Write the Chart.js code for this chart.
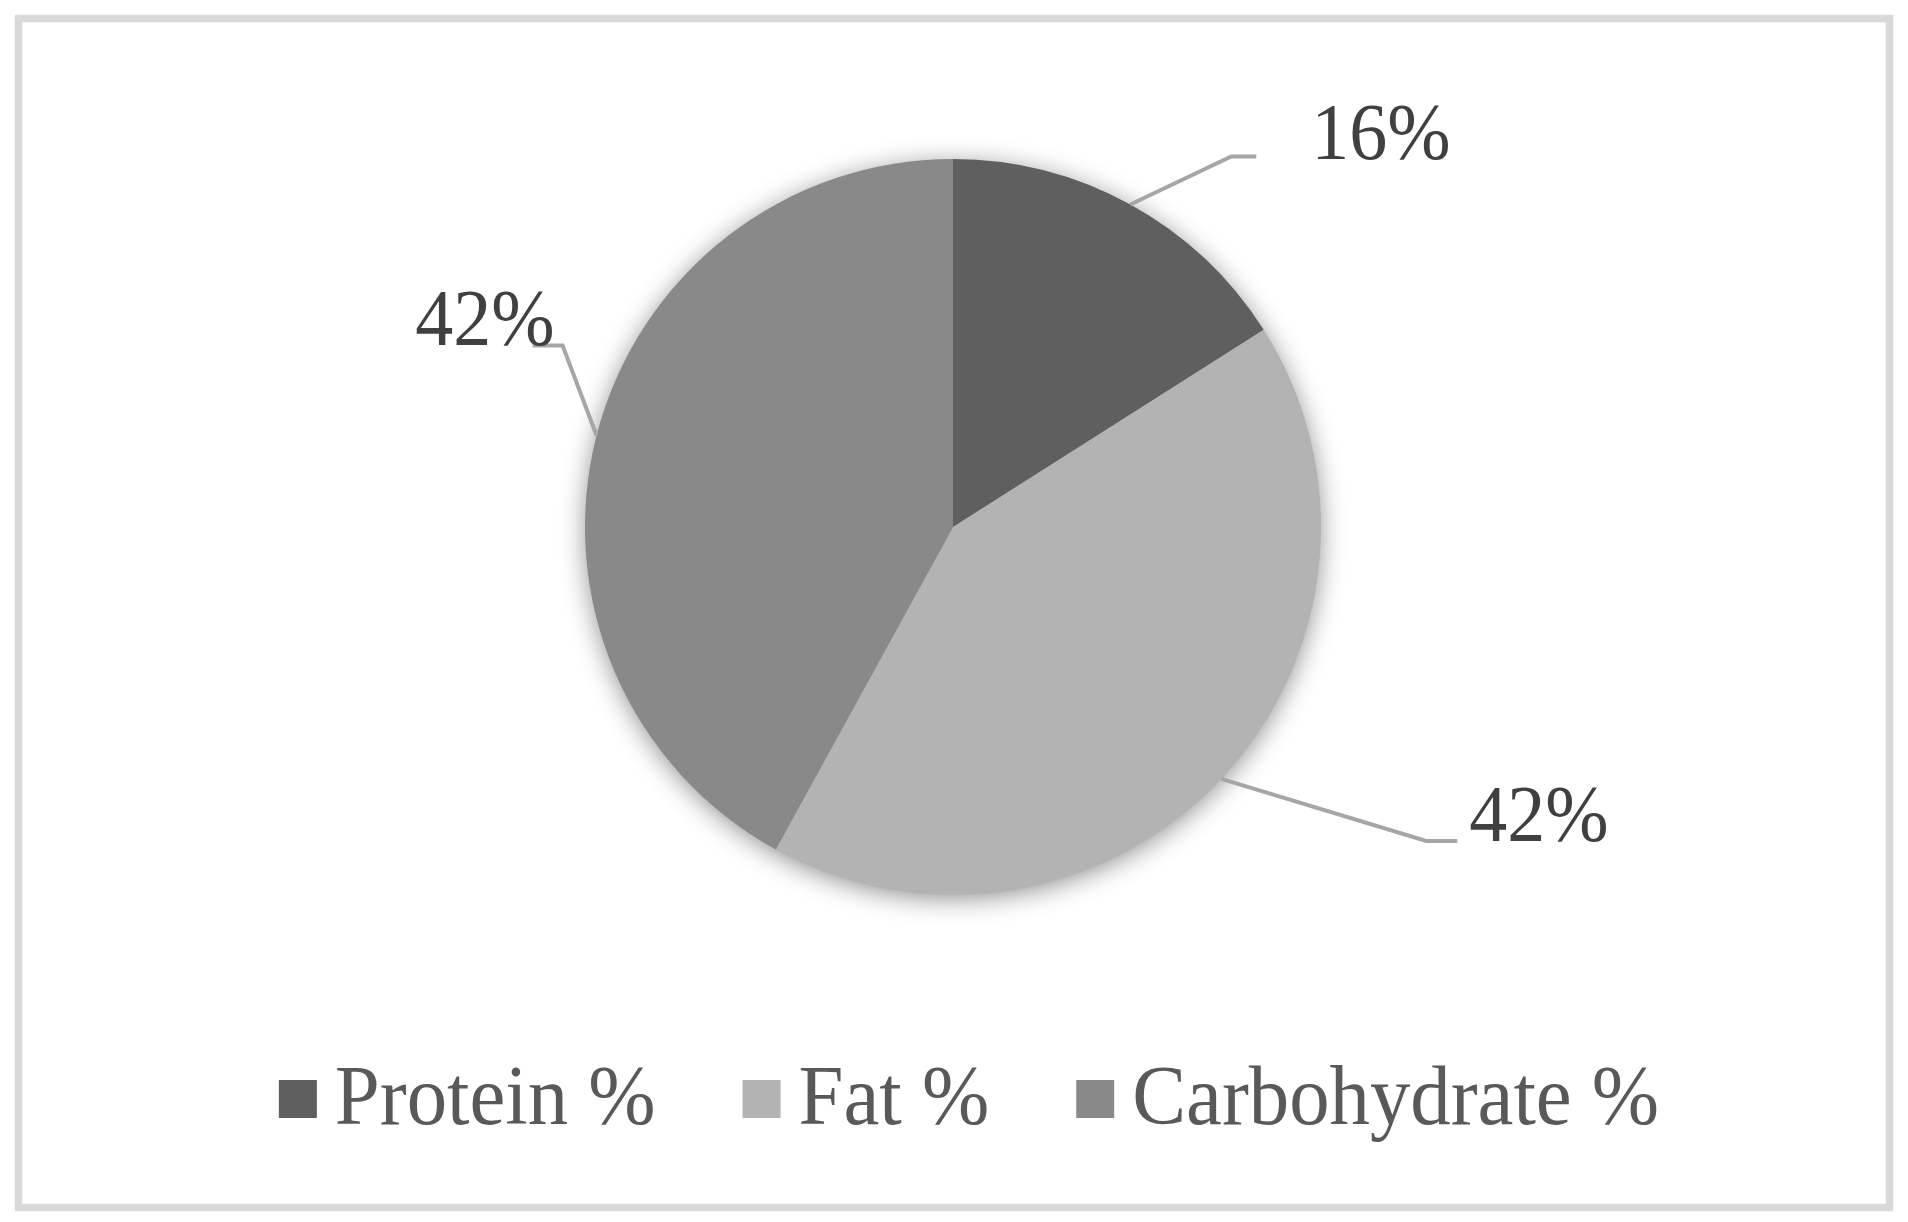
<!DOCTYPE html>
<html>
<head>
<meta charset="utf-8">
<script src="https://cdn.jsdelivr.net/npm/chart.js@4.4.1/dist/chart.umd.min.js"></script>
<style>
  html, body { margin: 0; padding: 0; background: #ffffff; }
  canvas { display: block; }
</style>
</head>
<body>
<canvas id="c" width="1908" height="1222"></canvas>
<script>
// ---- data ----
const categories = ["Protein %", "Fat %", "Carbohydrate %"];
const values = [16, 42, 42];
const valueLabels = ["16%", "42%", "42%"];
const sliceColors = ["#5f5f5f", "#b3b3b3", "#898989"];

// ---- layout of leader lines (offsets from the slice's outer mid point, in px at radius 368) ----
const leaderLayout = [
  { elbow: [101, -48], end: [126, -48], textAlign: "left",  textDx: 55,  textDy: 2 },
  { elbow: [205, 62],  end: [236, 62],  textAlign: "left",  textDx: 12,  textDy: 0 },
  { elbow: [-34, -90], end: [-64, -90], textAlign: "right", textDx: 22,  textDy: 0 }
];

const FONT_FAMILY = "'Liberation Serif', 'Times New Roman', Tinos, serif";
const SQUEEZE = 0.95;

function drawSqueezedText(ctx, text, x, y, size, color, align) {
  ctx.save();
  ctx.font = size + "px " + FONT_FAMILY;
  ctx.fillStyle = color;
  ctx.textBaseline = "alphabetic";
  const w = ctx.measureText(text).width * SQUEEZE;
  const left = align === "right" ? x - w : x;
  ctx.translate(left, y);
  ctx.scale(SQUEEZE, 1);
  ctx.textAlign = "left";
  ctx.fillText(text, 0, 0);
  ctx.restore();
  return w;
}

const framePlugin = {
  id: "frame",
  beforeDraw(chart) {
    const ctx = chart.ctx;
    ctx.save();
    ctx.fillStyle = "#ffffff";
    ctx.fillRect(0, 0, chart.width, chart.height);
    ctx.strokeStyle = "#d9d9d9";
    ctx.lineWidth = 7.5;
    ctx.strokeRect(18.5, 18.5, chart.width - 37, chart.height - 33);
    ctx.restore();
  }
};

const shadowPlugin = {
  id: "pieShadow",
  beforeDatasetsDraw(chart) {
    const meta = chart.getDatasetMeta(0);
    if (!meta.data.length) return;
    const arc = meta.data[0];
    const ctx = chart.ctx;
    ctx.save();
    ctx.shadowColor = "rgba(0,0,0,0.45)";
    ctx.shadowBlur = 26;
    ctx.shadowOffsetX = 0;
    ctx.shadowOffsetY = 4;
    ctx.fillStyle = "#999999";
    ctx.beginPath();
    ctx.arc(arc.x, arc.y, arc.outerRadius - 1, 0, Math.PI * 2);
    ctx.fill();
    ctx.restore();
  }
};

const leaderPlugin = {
  id: "leaders",
  afterDatasetsDraw(chart) {
    const meta = chart.getDatasetMeta(0);
    const ctx = chart.ctx;
    meta.data.forEach((arc, i) => {
      const L = leaderLayout[i];
      const k = arc.outerRadius / 368;
      const mid = (arc.startAngle + arc.endAngle) / 2;
      const sx = arc.x + Math.cos(mid) * arc.outerRadius;
      const sy = arc.y + Math.sin(mid) * arc.outerRadius;
      const ex = sx + L.elbow[0] * k, ey = sy + L.elbow[1] * k;
      const fx = sx + L.end[0] * k, fy = sy + L.end[1] * k;
      ctx.save();
      ctx.strokeStyle = "#a6a6a6";
      ctx.lineWidth = 4;
      ctx.lineJoin = "miter";
      ctx.beginPath();
      ctx.moveTo(sx, sy);
      ctx.lineTo(ex, ey);
      ctx.lineTo(fx, fy);
      ctx.stroke();
      ctx.restore();
      drawSqueezedText(ctx, valueLabels[i], fx + L.textDx, fy + L.textDy, 80, "#404040", L.textAlign);
    });
  }
};

const legendPlugin = {
  id: "customLegend",
  afterDraw(chart) {
    const ctx = chart.ctx;
    const size = 85, box = 38, gap = 18, spacing = 87;
    ctx.save();
    ctx.font = size + "px " + FONT_FAMILY;
    const widths = categories.map(t => ctx.measureText(t).width * SQUEEZE);
    ctx.restore();
    const total = widths.reduce((a, w) => a + box + gap + w, 0) + spacing * (categories.length - 1);
    let x = (chart.width - total) / 2 + 15;
    const baseline = 1124;
    const boxTop = 1080;
    categories.forEach((t, i) => {
      ctx.save();
      ctx.fillStyle = sliceColors[i];
      ctx.fillRect(x, boxTop, box, box);
      ctx.restore();
      drawSqueezedText(ctx, t, x + box + gap, baseline, size, "#595959", "left");
      x += box + gap + widths[i] + spacing;
    });
  }
};

new Chart(document.getElementById("c"), {
  type: "pie",
  data: {
    labels: categories,
    datasets: [{
      data: values,
      backgroundColor: sliceColors,
      borderWidth: 0,
      hoverOffset: 0
    }]
  },
  options: {
    responsive: false,
    devicePixelRatio: 1,
    animation: false,
    events: [],
    layout: { padding: { left: 584, right: 586, top: 159, bottom: 327 } },
    plugins: {
      legend: { display: false },
      tooltip: { enabled: false }
    }
  },
  plugins: [framePlugin, shadowPlugin, leaderPlugin, legendPlugin]
});
</script>
</body>
</html>
